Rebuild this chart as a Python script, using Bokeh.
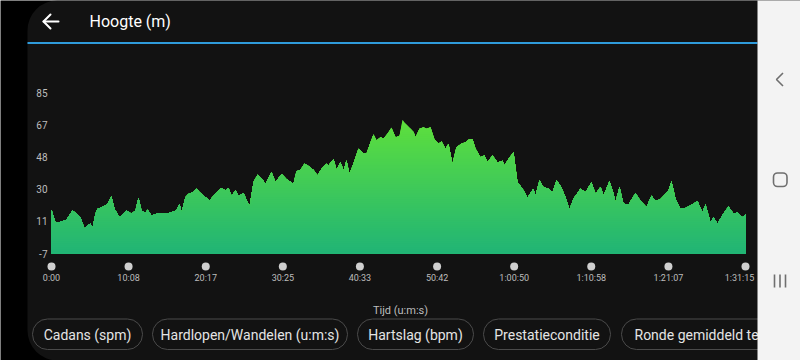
import numpy as np
from bokeh.plotting import figure
from bokeh.models import Range1d
from bokeh.embed import file_html
from bokeh.resources import INLINE
from bokeh.core.properties import value

# ---------------- data ----------------
time_s = [0, 32, 79, 118, 166, 197, 229, 260, 284, 308, 323, 347, 363, 394, 426, 442, 473, 497, 536,
          568, 592, 631, 663, 686, 710, 742, 757, 789, 844, 899, 947, 986, 1010, 1026, 1057, 1081, 1112,
          1144, 1168, 1199, 1246, 1294, 1341, 1373, 1396, 1420, 1452, 1475, 1515, 1562, 1594, 1625, 1657,
          1688, 1736, 1767, 1815, 1854, 1909, 1933, 1964, 1996, 2027, 2067, 2098, 2130, 2169, 2185, 2225,
          2248, 2280, 2304, 2327, 2351, 2382, 2422, 2461, 2485, 2517, 2540, 2564, 2596, 2619, 2651, 2682,
          2714, 2745, 2769, 2793, 2832, 2856, 2872, 2903, 2935, 2958, 2990, 3022, 3053, 3077, 3108, 3132,
          3163, 3195, 3234, 3266, 3298, 3321, 3345, 3384, 3416, 3440, 3479, 3519, 3558, 3574, 3605, 3645,
          3676, 3716, 3755, 3802, 3818, 3850, 3881, 3921, 3952, 3984, 4015, 4055, 4086, 4118, 4173, 4213,
          4260, 4292, 4331, 4355, 4402, 4434, 4449, 4481, 4512, 4552, 4607, 4647, 4694, 4733, 4765, 4804,
          4844, 4868, 4891, 4923, 4962, 5002, 5041, 5096, 5136, 5159, 5199, 5222, 5254, 5294, 5341, 5380,
          5412, 5451, 5475]
elevation_m = [18, 10.5, 11.3, 12.3, 17.6, 15.7, 13.7, 7.1, 9, 10, 7.1, 15.7, 18.5, 19.5, 20.4, 21.4, 25.6,
               18.5, 13.7, 15.7, 17.6, 15.7, 17.6, 24.8, 17.6, 16, 18, 14.7, 16, 15.7, 16.6, 17.6, 21.4,
               16.6, 25.2, 27, 28, 30, 28, 26.1, 23.3, 27.1, 30.5, 29, 30.4, 26, 29, 26, 27.4, 19.9, 33.7,
               38, 36, 32.8, 39.5, 33.7, 38.5, 35.5, 32.8, 40, 40.7, 44.3, 43, 40.7, 37.6, 41.3, 44.3,
               43.3, 47, 40.8, 45.2, 40.4, 46.1, 38.5, 44.3, 52.8, 50.3, 50, 56.6, 61, 57.6, 59.5, 58.6,
               61.4, 64.8, 59.5, 60, 69.4, 67.1, 64.3, 62.4, 59.5, 64.3, 65.2, 64.3, 65.2, 58, 55.7, 57,
               52.8, 55.7, 44.3, 53.7, 55.7, 56.6, 58.5, 58.5, 52.8, 48, 49, 45.2, 49, 45, 46, 43.3, 47,
               50.9, 33.7, 30, 24.8, 30, 26.1, 34.7, 30.9, 30, 28, 34.7, 31.9, 25.2, 18, 24.3, 30, 28,
               33.7, 27, 31, 26.1, 34.3, 27.1, 22.3, 31, 21.4, 21, 27.5, 23, 19.5, 26, 23, 24, 27, 29,
               34.3, 24.2, 18.5, 19, 20.4, 22.9, 16.6, 21, 10.9, 13.7, 10, 15, 19.9, 15.7, 16.5, 13.7,
               15.3]
assert len(time_s) == len(elevation_m)

y_ticks = [-7, 11.4, 29.8, 48.2, 66.6, 85]
y_tick_labels = ["-7", "11", "30", "48", "67", "85"]
x_ticks = [0, 608, 1217, 1825, 2433, 3042, 3650, 4258, 4867, 5475]
x_tick_labels = ["0:00", "10:08", "20:17", "30:25", "40:33", "50:42",
                 "1:00:50", "1:10:58", "1:21:07", "1:31:15"]
title = "Hoogte (m)"
x_title = "Tijd (u:m:s)"
chips = ["Cadans (spm)", "Hardlopen/Wandelen (u:m:s)", "Hartslag (bpm)",
         "Prestatieconditie", "Ronde gemiddeld tempo"]

# ---------------- layout (window pixels) ----------------
W, H = 800, 360
OFF = 0
PX0, PX1 = 51, 745      # window x of first / last time
PY_TOP, PY_BOT = 92, 253  # window y of top / bottom y tick
T_MAX = x_ticks[-1]
V_MIN, V_MAX = y_ticks[0], y_ticks[-1]
kx = T_MAX / (PX1 - PX0)
ky = (V_MAX - V_MIN) / (PY_BOT - PY_TOP)


def X(sx):
    return (sx - PX0) * kx


def Y(sy):
    return V_MIN + (PY_BOT - sy) * ky


FONT = value("Roboto")
BG = "#121212"

p = figure(width=W, height=H,
           x_range=Range1d(X(OFF), X(OFF + W)), y_range=Range1d(Y(OFF + H), Y(OFF)),
           output_backend="svg", toolbar_location=None, min_border=0,
           x_axis_location=None, y_axis_location=None,
           background_fill_color="#000000", border_fill_color="#000000",
           outline_line_color=None)
p.grid.visible = False

# app surface with rounded left corners
p.quad(left=[X(27)], right=[X(830)], top=[Y(0)], bottom=[Y(360)],
       border_radius=30, fill_color=BG, line_color=None)

# header
p.segment(x0=[X(27)], y0=[Y(42.5)], x1=[X(757)], y1=[Y(42.5)],
          line_width=2, line_color="#2F9BDB")
p.text(x=[X(89)], y=[Y(21)], text=[title], text_font=FONT, text_font_size="16px",
       text_color="#FFFFFF", text_baseline="middle", text_align="left")
p.multi_line(xs=[[X(43), X(58)], [X(50), X(43), X(50)]],
             ys=[[Y(21), Y(21)], [Y(14), Y(21), Y(28)]],
             line_color="#FFFFFF", line_width=2, line_cap="round", line_join="round")

# area with vertical gradient (layered bands)
t = np.array(time_s, dtype=float)
v = np.array(elevation_m, dtype=float)
top_rgb = np.array([98, 226, 56])
bot_rgb = np.array([32, 180, 118])


def grad(h):
    f = np.clip((h - V_MIN) / (75 - V_MIN), 0, 1)
    c = bot_rgb + (top_rgb - bot_rgb) * f
    return "#%02x%02x%02x" % tuple(int(round(x)) for x in c)


p.varea(x=t, y1=V_MIN, y2=v, fill_color=grad(v.max()))
for h in np.arange(v.max() - 1.0, V_MIN, -1.2):
    p.varea(x=t, y1=V_MIN, y2=np.minimum(v, h), fill_color=grad(h))

# y tick labels
p.text(x=[X(47)] * len(y_ticks), y=y_ticks, text=y_tick_labels, text_font=FONT,
       text_font_size="10px", text_color="#BDBDBD", text_align="right", text_baseline="middle")

# x ticks: dots + labels (last label nudged inward like the app does)
label_shift = [0] * (len(x_ticks) - 1) + [-6]
p.scatter(x=x_ticks, y=[Y(266)] * len(x_ticks), size=8, fill_color="#CFCFCF", line_color=None)
p.text(x=x_ticks, y=[Y(277.5)] * len(x_ticks), text=x_tick_labels, x_offset=label_shift,
       text_font=FONT, text_font_size="9px", text_color="#BDBDBD",
       text_align="center", text_baseline="middle")
p.text(x=[X(400)], y=[Y(310)], text=[x_title], text_font=FONT, text_font_size="11px",
       text_color="#BDBDBD", text_align="center", text_baseline="middle")

# chips
chip_l = [32, 152, 357, 483, 621]
chip_r = [142, 347, 473, 610, 840]
p.quad(left=[X(a) for a in chip_l], right=[X(b) for b in chip_r],
       top=[Y(318.5)] * 5, bottom=[Y(349)] * 5, border_radius=15,
       fill_color=None, line_color="#4A4A4A", line_width=1)
p.text(x=[X((a + b) / 2) for a, b in zip(chip_l[:4], chip_r[:4])], y=[Y(334)] * 4,
       text=chips[:4], text_font=FONT, text_font_size="14px", text_color="#E4E4E4",
       text_align="center", text_baseline="middle")
p.text(x=[X(634)], y=[Y(334)], text=chips[4:], text_font=FONT, text_font_size="14px",
       text_color="#E4E4E4", text_align="left", text_baseline="middle")

# system navigation bar
p.quad(left=[X(757)], right=[X(840)], top=[Y(-20)], bottom=[Y(400)],
       fill_color="#F3F3F3", line_color=None)
p.line(x=[X(782.5), X(776), X(782.5)], y=[Y(72.5), Y(79), Y(85.5)],
       line_color="#6F6F6F", line_width=1.6)
p.quad(left=[X(773)], right=[X(786.5)], top=[Y(172.5)], bottom=[Y(186)], border_radius=4,
       fill_color=None, line_color="#6F6F6F", line_width=1.6)
p.segment(x0=[X(774), X(779.5), X(785)], y0=[Y(274)] * 3,
          x1=[X(774), X(779.5), X(785)], y1=[Y(287)] * 3,
          line_color="#6F6F6F", line_width=1.6)

open("out.html", "w").write(file_html(p, INLINE))
